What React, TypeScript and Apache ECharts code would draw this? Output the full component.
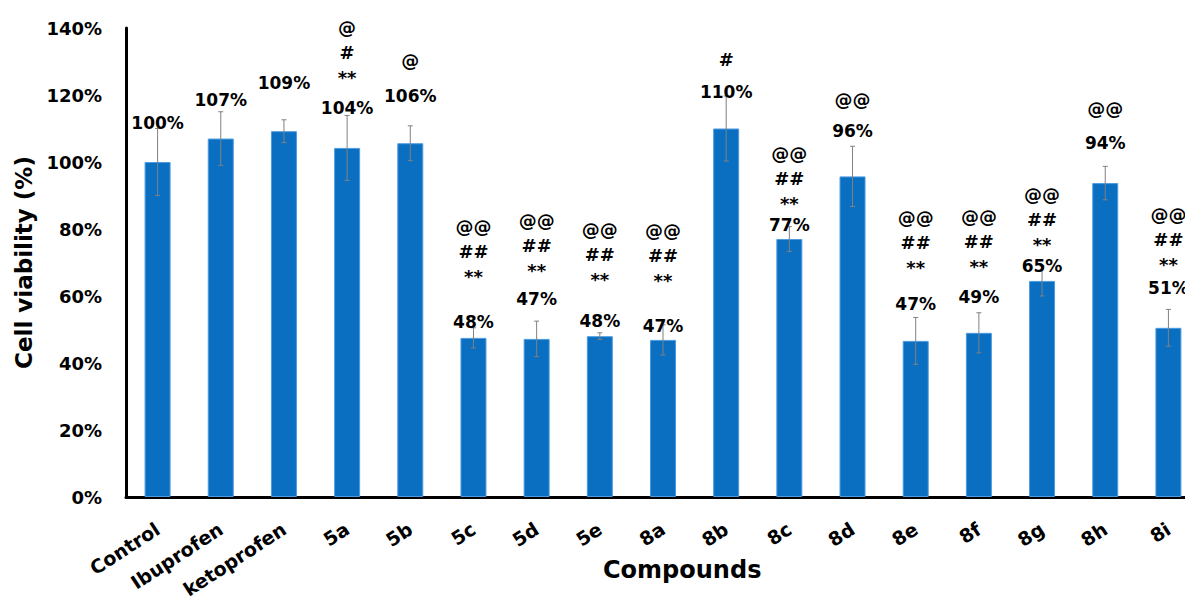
import React, { useEffect, useRef } from "react";
import * as echarts from "echarts";

const categories = ["Control", "Ibuprofen", "ketoprofen", "5a", "5b", "5c", "5d", "5e", "8a", "8b", "8c", "8d", "8e", "8f", "8g", "8h", "8i"];
const viability = [100, 107, 109.2, 104.2, 105.6, 47.5, 47.2, 48, 46.9, 110, 77, 95.7, 46.6, 49, 64.5, 93.7, 50.5];
const errorSD = [10, 8, 3.4, 9.7, 5.2, 3, 5.3, 1, 4.5, 9.7, 3.7, 9, 7, 6, 4.5, 5, 5.5];
const notes: string[][] = [
  [], [], [], ["@", "#", "**"], ["@"],
  ["@@", "##", "**"], ["@@", "##", "**"], ["@@", "##", "**"], ["@@", "##", "**"],
  ["#"], ["@@", "##", "**"], ["@@"],
  ["@@", "##", "**"], ["@@", "##", "**"], ["@@", "##", "**"], ["@@"], ["@@", "##", "**"],
];
const yTicks = [0, 20, 40, 60, 80, 100, 120, 140];

// label layout (px): lift of the value label above the bar top, and of the notes above the value label
const valueLift = [39, 39, 48, 40, 47, 16, 40, 15, 14, 37, 14, 45, 37, 36, 15, 40, 40];
const noteLift = [0, 0, 0, 30, 36, 45, 28, 42, 45, 32, 22, 32, 36, 30, 21, 35, 23];

const FONT = '"DejaVu Sans", sans-serif';

export default function App() {
  const ref = useRef<HTMLDivElement>(null);
  useEffect(() => {
    const chart = echarts.init(ref.current!, null, { renderer: "svg" });
    const errData = categories.map((_, i) => [i, viability[i], errorSD[i]]);
    chart.setOption({
      animation: false,
      backgroundColor: "#ffffff",
      grid: { left: 126, top: 28, width: 1074, height: 469 },
      xAxis: {
        type: "category",
        data: categories,
        axisTick: { show: false },
        axisLine: { lineStyle: { color: "#000", width: 3 } },
        axisLabel: {
          interval: 0,
          rotate: 33,
          margin: 30,
          color: "#000",
          fontFamily: FONT,
          fontWeight: "bold",
          fontSize: 19,
        },
      },
      yAxis: {
        type: "value",
        min: yTicks[0],
        max: yTicks[yTicks.length - 1],
        interval: 20,
        name: "Cell viability (%)",
        nameLocation: "middle",
        nameGap: 82,
        nameTextStyle: { color: "#000", fontFamily: FONT, fontWeight: "bold", fontSize: 23 },
        splitLine: { show: false },
        axisTick: { show: false },
        axisLine: { show: true, lineStyle: { color: "#000", width: 3 } },
        axisLabel: {
          formatter: (v: number) => v + "%",
          margin: 24,
          color: "#000",
          fontFamily: FONT,
          fontWeight: "bold",
          fontSize: 18,
        },
      },
      graphic: [
        {
          type: "text",
          left: 683 - 80,
          top: 558,
          style: { text: "Compounds", fill: "#000", font: `bold 24px ${FONT}` },
        },
      ],
      series: [
        {
          type: "bar",
          data: viability,
          barWidth: 26,
          itemStyle: { color: "#0a6fc1", borderColor: "#4c9be0", borderWidth: 1 },
        },
        {
          type: "custom",
          coordinateSystem: "cartesian2d",
          data: errData,
          encode: { x: 0, y: 1 },
          clip: false,
          z: 10,
          renderItem: (params: any, api: any) => {
            const i = api.value(0);
            const v = api.value(1);
            const e = api.value(2);
            const hi = api.coord([i, v + e]);
            const lo = api.coord([i, v - e]);
            const base = api.coord([i, v]);
            const x = base[0];
            const idx = params.dataIndex;
            const lineStyle = { stroke: "#808080", lineWidth: 1 };
            const valueY = base[1] - valueLift[idx];
            const children: any[] = [
              { type: "line", shape: { x1: x, y1: hi[1], x2: x, y2: lo[1] }, style: lineStyle },
              { type: "line", shape: { x1: x - 2.5, y1: hi[1], x2: x + 2.5, y2: hi[1] }, style: lineStyle },
              { type: "line", shape: { x1: x - 2.5, y1: lo[1], x2: x + 2.5, y2: lo[1] }, style: lineStyle },
              {
                type: "text",
                style: {
                  text: Math.round(v) + "%",
                  x,
                  y: valueY,
                  align: "center",
                  verticalAlign: "middle",
                  fill: "#000",
                  font: `bold 17px ${FONT}`,
                },
              },
            ];
            const n = notes[idx];
            if (n.length) {
              children.push({
                type: "text",
                style: {
                  text: n.join("\n"),
                  x,
                  y: valueY - noteLift[idx] + 12.5,
                  align: "center",
                  verticalAlign: "bottom",
                  lineHeight: 25,
                  fill: "#000",
                  font: `bold 18px ${FONT}`,
                },
              });
            }
            return { type: "group", children };
          },
        },
      ],
    });
    return () => chart.dispose();
  }, []);
  return (
    <div style={{ position: "fixed", left: 0, top: 0, width: 1185, height: 606, overflow: "hidden" }}>
      <div ref={ref} style={{ width: 1205, height: 606 }} />
    </div>
  );
}
